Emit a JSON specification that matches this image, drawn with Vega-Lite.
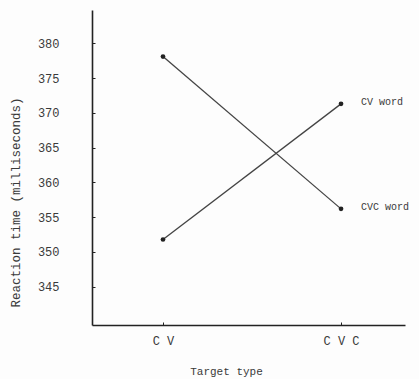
{
  "$schema": "https://vega.github.io/schema/vega-lite/v6.json",
  "width": 313,
  "height": 315,
  "autosize": {"type": "none"},
  "padding": {"left": 92, "top": 10, "right": 14, "bottom": 54},
  "background": "#fdfdfd",
  "config": {
    "view": {"stroke": null},
    "axis": {
      "font": "Liberation Mono",
      "labelFont": "Liberation Mono",
      "titleFont": "Liberation Mono",
      "labelColor": "#3a3a3a",
      "titleColor": "#3a3a3a",
      "domainColor": "#222222",
      "domainWidth": 1.6,
      "tickColor": "#222222",
      "grid": false,
      "titleFontWeight": "normal"
    }
  },
  "data": {
    "values": [
      {"target": "C V", "series": "CVC word", "rt": 378.1},
      {"target": "C V C", "series": "CVC word", "rt": 356.2},
      {"target": "C V", "series": "CV word", "rt": 351.8},
      {"target": "C V C", "series": "CV word", "rt": 371.3}
    ]
  },
  "encoding": {
    "x": {
      "field": "target",
      "type": "ordinal",
      "sort": ["C V", "C V C"],
      "scale": {"type": "point", "padding": 0.379, "align": 0.526},
      "axis": {
        "title": "Target type",
        "labelAngle": 0,
        "labelFontSize": 12,
        "labelPadding": 13,
        "tickSize": -3,
        "titleFontSize": 11,
        "titleY": 40,
        "titleX": 134
      }
    },
    "y": {
      "field": "rt",
      "type": "quantitative",
      "scale": {"domain": [339.5, 384.8], "nice": false, "zero": false},
      "axis": {
        "title": "Reaction time (milliseconds)",
        "values": [345, 350, 355, 360, 365, 370, 375, 380],
        "labelFontSize": 12,
        "labelPadding": 36,
        "tickSize": -3,
        "titleFontSize": 12.5,
        "titleX": -70,
        "titleY": 192
      }
    }
  },
  "layer": [
    {
      "mark": {"type": "line", "color": "#444444", "strokeWidth": 1.3},
      "encoding": {"detail": {"field": "series"}}
    },
    {
      "mark": {"type": "point", "filled": true, "color": "#222222", "size": 22, "opacity": 1}
    },
    {
      "transform": [{"filter": "datum.target === 'C V C'"}],
      "mark": {"type": "text", "align": "left", "dx": 20, "dy": -2, "font": "Liberation Mono", "fontSize": 10, "color": "#3a3a3a"},
      "encoding": {"text": {"field": "series"}}
    }
  ]
}
